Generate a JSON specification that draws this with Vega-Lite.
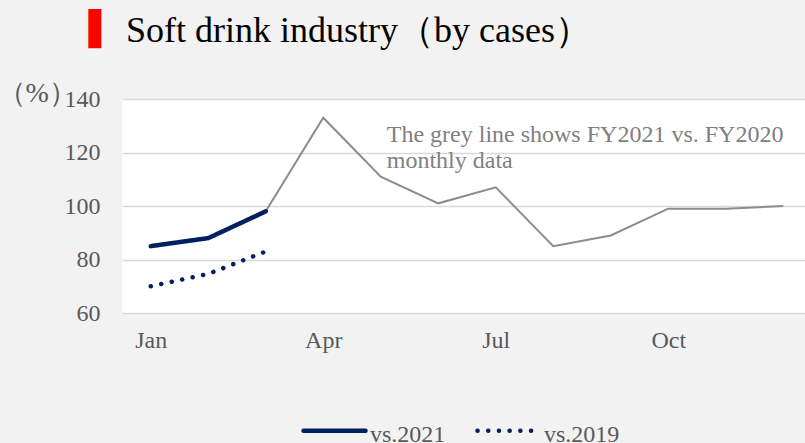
{
  "$schema": "https://vega.github.io/schema/vega-lite/v6.json",
  "width": 683,
  "height": 214,
  "autosize": {"type": "none"},
  "padding": {"left": 122, "top": 99, "right": 0, "bottom": 130},
  "background": "#f2f2f2",
  "config": {
    "view": {"fill": "white", "stroke": null},
    "font": "Liberation Serif"
  },
  "title": {
    "text": "Soft drink industry（by cases）",
    "anchor": "start",
    "frame": "group",
    "dx": 4,
    "offset": -65,
    "baseline": "alphabetic",
    "font": "Liberation Serif",
    "fontSize": 36,
    "fontWeight": "normal",
    "color": "black"
  },
  "data": {
    "values": [
      {"month": "Jan", "series": "vs.2021", "value": 85},
      {"month": "Feb", "series": "vs.2021", "value": 88},
      {"month": "Mar", "series": "vs.2021", "value": 98},
      {"month": "Jan", "series": "vs.2019", "value": 70},
      {"month": "Feb", "series": "vs.2019", "value": 74.6},
      {"month": "Mar", "series": "vs.2019", "value": 83},
      {"month": "Mar", "series": "FY2021 vs. FY2020", "value": 98},
      {"month": "Apr", "series": "FY2021 vs. FY2020", "value": 133},
      {"month": "May", "series": "FY2021 vs. FY2020", "value": 111},
      {"month": "Jun", "series": "FY2021 vs. FY2020", "value": 101},
      {"month": "Jul", "series": "FY2021 vs. FY2020", "value": 107},
      {"month": "Aug", "series": "FY2021 vs. FY2020", "value": 85},
      {"month": "Sep", "series": "FY2021 vs. FY2020", "value": 89},
      {"month": "Oct", "series": "FY2021 vs. FY2020", "value": 99},
      {"month": "Nov", "series": "FY2021 vs. FY2020", "value": 99},
      {"month": "Dec", "series": "FY2021 vs. FY2020", "value": 100}
    ]
  },
  "encoding": {
    "x": {
      "field": "month",
      "type": "ordinal",
      "sort": ["Jan","Feb","Mar","Apr","May","Jun","Jul","Aug","Sep","Oct","Nov","Dec"],
      "scale": {
        "type": "point",
        "domain": ["Jan","Feb","Mar","Apr","May","Jun","Jul","Aug","Sep","Oct","Nov","Dec"],
        "range": [0, 690],
        "padding": 0.5
      },
      "axis": {
        "values": ["Jan","Apr","Jul","Oct"],
        "labelAngle": 0,
        "labelFontSize": 24,
        "labelColor": "#595959",
        "labelPadding": 15,
        "ticks": false,
        "domain": false,
        "grid": false,
        "title": "▌",
        "titleFont": "DejaVu Sans",
        "titleFontSize": 33,
        "titleFontWeight": "normal",
        "titleColor": "#ff0000",
        "titleAlign": "left",
        "titleBaseline": "top",
        "titleAnchor": "start",
        "titleX": -34,
        "titleY": -300
      }
    },
    "y": {
      "field": "value",
      "type": "quantitative",
      "scale": {"domain": [60, 140], "nice": false, "zero": false},
      "axis": {
        "values": [60, 80, 100, 120, 140],
        "labelFontSize": 24,
        "labelColor": "#595959",
        "labelPadding": 22,
        "ticks": false,
        "domain": false,
        "gridColor": "#d9d9d9",
        "gridWidth": 1.3,
        "title": "（%）",
        "titleFont": "Liberation Serif",
        "titleFontSize": 28,
        "titleFontWeight": "normal",
        "titleColor": "#595959",
        "titleAngle": 0,
        "titleAlign": "left",
        "titleBaseline": "middle",
        "titleX": -125,
        "titleY": -6
      }
    }
  },
  "layer": [
    {
      "transform": [{"filter": "datum.series === 'FY2021 vs. FY2020'"}],
      "mark": {"type": "line", "color": "#8c8c8c", "strokeWidth": 2}
    },
    {
      "transform": [{"filter": "datum.series !== 'FY2021 vs. FY2020'"}],
      "mark": {"type": "line", "color": "#002060", "strokeWidth": 4.5, "strokeCap": "round"},
      "encoding": {
        "strokeDash": {
          "field": "series",
          "type": "nominal",
          "scale": {"domain": ["vs.2021", "vs.2019"], "range": [[1, 0], [0.1, 10.6]]},
          "legend": {
            "title": null,
            "orient": "none",
            "legendX": 179,
            "legendY": 298,
            "direction": "horizontal",
            "symbolType": "stroke",
            "symbolSize": 3844,
            "symbolStrokeWidth": 4.5,
            "symbolStrokeColor": "#002060",
            "labelFont": "Liberation Serif",
            "labelFontSize": 24,
            "labelColor": "#595959",
            "labelOffset": 2,
            "columnPadding": 22,
            "encode": {
              "symbols": {"update": {"strokeCap": {"value": "round"}}},
              "labels": {"update": {"dy": {"value": 4}}}
            }
          }
        }
      }
    },
    {
      "data": {
        "values": [
          {"month": "May", "value": 124.1, "note": ["The grey line shows FY2021 vs. FY2020", "monthly data"]}
        ]
      },
      "mark": {
        "type": "text",
        "align": "left",
        "baseline": "alphabetic",
        "dx": 6,
        "font": "Liberation Serif",
        "fontSize": 24,
        "lineHeight": 26.7,
        "color": "#808080"
      },
      "encoding": {
        "text": {"field": "note"}
      }
    }
  ]
}
